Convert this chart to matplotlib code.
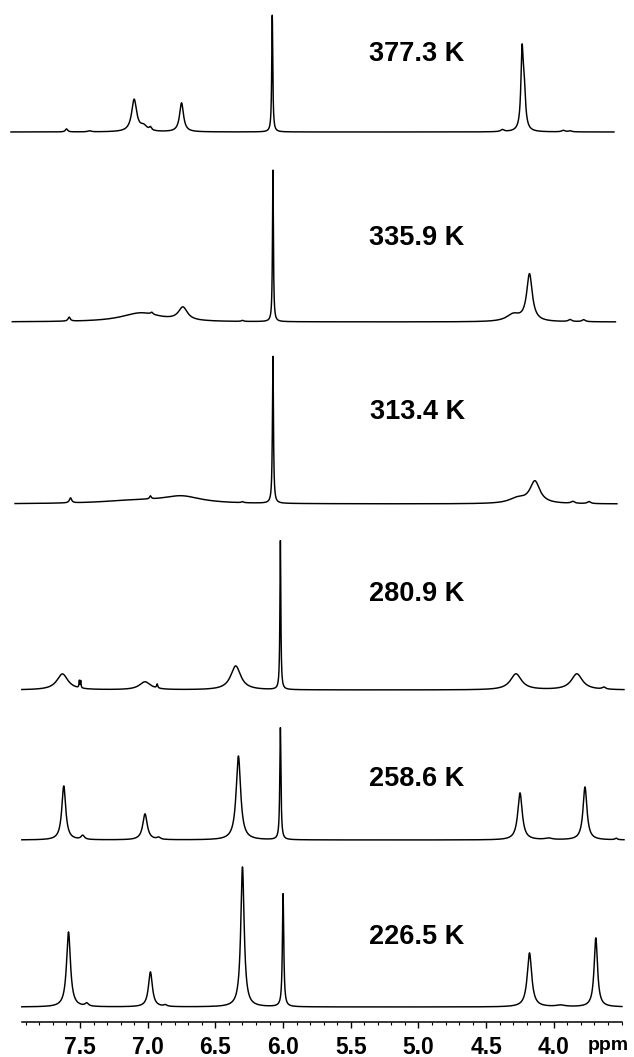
import numpy as np
import matplotlib
matplotlib.use('Agg')
import matplotlib.pyplot as plt
from matplotlib.ticker import FixedLocator

plt.rcParams['font.family'] = ['Liberation Sans', 'DejaVu Sans']
plt.rcParams['font.weight'] = 'bold'

### peak lists (ppm, height, width) ###
temps = ['377.3 K', '335.9 K', '313.4 K', '280.9 K', '258.6 K', '226.5 K']

pos_377 = [7.60, 7.43, 7.10, 7.03, 6.98, 6.75, 6.08, 4.38, 4.235, 4.22, 3.93, 3.88]
hgt_377 = [3, 1, 32, 5, 3, 29, 117, 2, 72, 38, 1.5, 1]
wid_377 = [0.02, 0.03, 0.045, 0.06, 0.02, 0.035, 0.009, 0.03, 0.02, 0.025, 0.03, 0.03]

pos_335 = [7.58, 7.05, 6.97, 6.74, 6.30, 6.075, 4.30, 4.18, 3.88, 3.78]
hgt_335 = [4, 9, 2, 13, 1, 152, 7, 47, 2, 2]
wid_335 = [0.02, 0.35, 0.02, 0.08, 0.02, 0.008, 0.12, 0.05, 0.03, 0.03]

pos_313 = [7.57, 7.10, 6.98, 6.75, 6.30, 6.075, 4.27, 4.14, 3.86, 3.74]
hgt_313 = [5, 3, 3, 7, 1, 147, 5, 22, 2, 2]
wid_313 = [0.02, 0.6, 0.015, 0.35, 0.02, 0.009, 0.15, 0.09, 0.03, 0.03]

pos_280 = [7.63, 7.505, 7.495, 7.02, 6.93, 6.35, 6.02, 4.28, 3.83, 3.63]
hgt_280 = [16, 7, 7, 8, 4, 24, 149, 16, 16, 2]
wid_280 = [0.1, 0.006, 0.006, 0.1, 0.01, 0.09, 0.008, 0.1, 0.1, 0.03]

pos_258 = [7.62, 7.48, 7.02, 6.92, 6.33, 6.02, 4.25, 4.04, 3.77, 3.54]
hgt_258 = [54, 4, 26, 2, 84, 112, 47, 1.5, 53, 1.5]
wid_258 = [0.035, 0.03, 0.04, 0.03, 0.04, 0.01, 0.04, 0.06, 0.035, 0.02]

pos_226 = [7.585, 7.45, 6.98, 6.87, 6.30, 6.00, 4.18, 3.95, 3.69]
hgt_226 = [75, 3, 35, 1.5, 140, 113, 54, 1.5, 69]
wid_226 = [0.035, 0.03, 0.035, 0.03, 0.03, 0.012, 0.04, 0.08, 0.03]

# ppm range covered by each recorded trace
start_ppm = [8.01, 8.00, 7.98, 7.93, 7.93, 7.93]
end_ppm = [3.556, 3.545, 3.534, 3.482, 3.482, 3.497]

peaks = [(pos_377, hgt_377, wid_377), (pos_335, hgt_335, wid_335),
         (pos_313, hgt_313, wid_313), (pos_280, hgt_280, wid_280),
         (pos_258, hgt_258, wid_258), (pos_226, hgt_226, wid_226)]

# vertical stacking (pixel units above the axis line)
offsets = [890, 700, 518, 332, 182, 15]
label_y = [968, 784, 610, 428, 243, 85]

fig = plt.figure(figsize=(6.34, 10.57), dpi=100)
ax = fig.add_axes([0, 35/1057., 1, 1 - 35/1057.])

for i in range(len(temps)):
 p, h, w = peaks[i]
 x = np.linspace(start_ppm[i], end_ppm[i], 9000)
 y = np.zeros(len(x))
 for j in range(len(p)):
  y = y + h[j] / (1 + ((x - p[j]) / (w[j] / 2.0))**2)
 ax.plot(x, y + offsets[i], color='black', lw=1.05)
 ax.text(5.01, label_y[i], temps[i], fontsize=19.5, fontweight='bold', va='center', ha='center')

ax.set_xlim(8.091, 3.408)
ax.set_ylim(0, 1022)

for s in ['left', 'right', 'top']:
 ax.spines[s].set_visible(False)
ax.spines['bottom'].set_bounds(7.93, 3.50)
ax.spines['bottom'].set_linewidth(1.1)
ax.set_yticks([])

major = [7.5, 7.0, 6.5, 6.0, 5.5, 5.0, 4.5, 4.0]
minor = [round(v, 1) for v in np.arange(3.5, 7.95, 0.1) if round(v, 1) not in major]
ax.xaxis.set_major_locator(FixedLocator(major))
ax.xaxis.set_minor_locator(FixedLocator(minor))
ax.set_xticklabels(['7.5', '7.0', '6.5', '6.0', '5.5', '5.0', '4.5', '4.0'])
ax.tick_params(axis='x', which='major', direction='out', length=4, width=1.0, pad=6, labelsize=16.5)
ax.tick_params(axis='x', which='minor', direction='out', length=2.5, width=0.8)

fig.text(608/634., 12/1057., 'ppm', fontsize=14, fontweight='bold', ha='center', va='center')

plt.savefig('out.png', dpi=100)
plt.close()
